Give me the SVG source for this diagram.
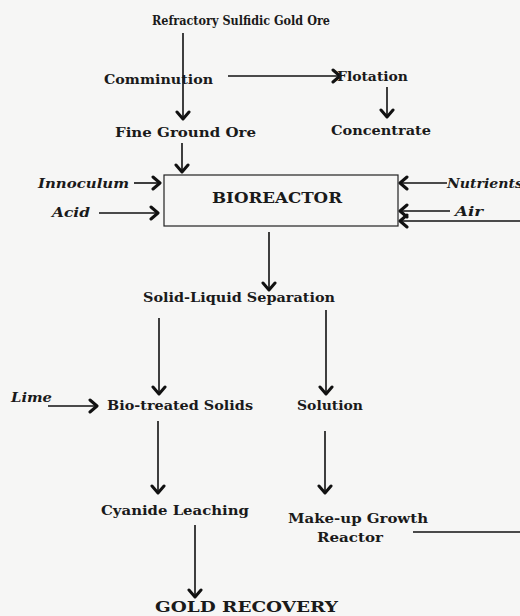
<svg xmlns="http://www.w3.org/2000/svg" width="520" height="616" viewBox="0 0 520 616">
<style>
.t{font-family:"DejaVu Serif","Liberation Serif",serif;font-weight:bold;font-size:13px;fill:#1a1a1a}
.i{font-style:italic}
.c{stroke:#111;stroke-width:1.6;fill:none}
.box{fill:none;stroke:#222;stroke-width:1.2}
</style>
<defs>
<marker id="ah" viewBox="-10 -8 12 16" markerWidth="12" markerHeight="16" refX="0" refY="0" orient="auto" markerUnits="userSpaceOnUse">
<path d="M-7,-6 L0,0 L-7,6" fill="none" stroke="#111" stroke-width="3" stroke-linecap="round" stroke-linejoin="round"/>
</marker>
</defs>
<rect width="520" height="616" fill="#f6f6f5"/>
<g id="connectors">
<line class="c" x1="183" y1="33" x2="183" y2="119" marker-end="url(#ah)"/>
<line class="c" x1="228" y1="76" x2="340" y2="76" marker-end="url(#ah)"/>
<line class="c" x1="387" y1="87" x2="387" y2="117" marker-end="url(#ah)"/>
<line class="c" x1="182" y1="143" x2="182" y2="172" marker-end="url(#ah)"/>
<line class="c" x1="134" y1="183" x2="160" y2="183" marker-end="url(#ah)"/>
<line class="c" x1="99" y1="213" x2="158" y2="213" marker-end="url(#ah)"/>
<line class="c" x1="447" y1="183" x2="400" y2="183" marker-end="url(#ah)"/>
<line class="c" x1="450" y1="211" x2="400" y2="211" marker-end="url(#ah)"/>
<line class="c" x1="520" y1="221" x2="400" y2="221" marker-end="url(#ah)"/>
<line class="c" x1="269" y1="232" x2="269" y2="290" marker-end="url(#ah)"/>
<line class="c" x1="159" y1="318" x2="159" y2="394" marker-end="url(#ah)"/>
<line class="c" x1="326" y1="310" x2="326" y2="394" marker-end="url(#ah)"/>
<line class="c" x1="48" y1="406" x2="97" y2="406" marker-end="url(#ah)"/>
<line class="c" x1="158" y1="421" x2="158" y2="493" marker-end="url(#ah)"/>
<line class="c" x1="325" y1="431" x2="325" y2="493" marker-end="url(#ah)"/>
<line class="c" x1="413" y1="532" x2="520" y2="532"/>
<line class="c" x1="195" y1="525" x2="195" y2="597" marker-end="url(#ah)"/>
</g>
<g id="ore"><text class="t" x="152" y="25" textLength="178" lengthAdjust="spacingAndGlyphs" style="font-size:12.5px">Refractory Sulfidic Gold Ore</text></g>
<g id="comminution"><text class="t" x="104" y="84" textLength="109" lengthAdjust="spacingAndGlyphs">Comminution</text></g>
<g id="flotation"><text class="t" x="337" y="81" textLength="71" lengthAdjust="spacingAndGlyphs">Flotation</text></g>
<g id="concentrate"><text class="t" x="331" y="135" textLength="100" lengthAdjust="spacingAndGlyphs">Concentrate</text></g>
<g id="fineground"><text class="t" x="115" y="137" textLength="141" lengthAdjust="spacingAndGlyphs">Fine Ground Ore</text></g>
<g id="bioreactor">
<rect class="box" x="164" y="175" width="234" height="51"/>
<text class="t" x="212" y="203" textLength="130" lengthAdjust="spacingAndGlyphs" style="font-size:14px">BIOREACTOR</text>
</g>
<g id="innoculum"><text class="t i" x="38" y="188" textLength="91" lengthAdjust="spacingAndGlyphs">Innoculum</text></g>
<g id="acid"><text class="t i" x="52" y="217" textLength="38" lengthAdjust="spacingAndGlyphs">Acid</text></g>
<g id="nutrients"><text class="t i" x="447" y="188" textLength="76" lengthAdjust="spacingAndGlyphs">Nutrients</text></g>
<g id="air"><text class="t i" x="455" y="216" textLength="28" lengthAdjust="spacingAndGlyphs">Air</text></g>
<g id="separation"><text class="t" x="143" y="302" textLength="192" lengthAdjust="spacingAndGlyphs">Solid-Liquid Separation</text></g>
<g id="lime"><text class="t i" x="11" y="402" textLength="41" lengthAdjust="spacingAndGlyphs">Lime</text></g>
<g id="biosolids"><text class="t" x="107" y="410" textLength="146" lengthAdjust="spacingAndGlyphs">Bio-treated Solids</text></g>
<g id="solution"><text class="t" x="297" y="410" textLength="66" lengthAdjust="spacingAndGlyphs">Solution</text></g>
<g id="cyanide"><text class="t" x="101" y="515" textLength="148" lengthAdjust="spacingAndGlyphs">Cyanide Leaching</text></g>
<g id="makeup">
<text class="t" x="288" y="523" textLength="140" lengthAdjust="spacingAndGlyphs">Make-up Growth</text>
<text class="t" x="317" y="542" textLength="66" lengthAdjust="spacingAndGlyphs">Reactor</text>
</g>
<g id="gold"><text class="t" x="155" y="612" textLength="183" lengthAdjust="spacingAndGlyphs" style="font-size:15px">GOLD RECOVERY</text></g>
</svg>
